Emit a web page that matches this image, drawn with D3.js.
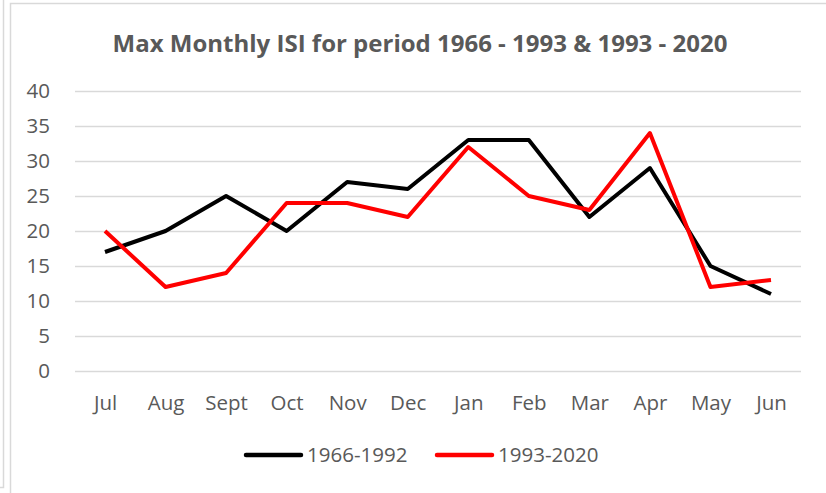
<!DOCTYPE html>
<html><head><meta charset="utf-8">
<script src="https://cdn.jsdelivr.net/npm/d3@7"></script>
<style>body{margin:0;background:#fff;} svg{display:block;}</style>
</head><body>
<script>
const months = ["Jul","Aug","Sept","Oct","Nov","Dec","Jan","Feb","Mar","Apr","May","Jun"];
const series1966 = [17,20,25,20,27,26,33,33,22,29,15,11];
const series1993 = [20,12,14,24,24,22,32,25,23,34,12,13];
const seriesNames = ["1966-1992","1993-2020"];
const seriesColors = ["#000000","#ff0000"];
const yTicks = [0,5,10,15,20,25,30,35,40];
const title = "Max Monthly ISI for period 1966 - 1993 & 1993 - 2020";

const W = 826, H = 493;
const svg = d3.select("body").append("svg").attr("width", W).attr("height", H);
const font = "'Open Sans', 'Noto Sans', sans-serif";

// outer frames
svg.append("path").attr("d","M3.5,0 V487.5 H0").attr("fill","none").attr("stroke","#d9d9d9").attr("stroke-width",1.5);
svg.append("path").attr("d","M10.5,493 V3.5 H826").attr("fill","none").attr("stroke","#d9d9d9").attr("stroke-width",1.5);

const plotL = 75, plotR = 801, plotT = 91, plotB = 371;
const x = d3.scalePoint().domain(months).range([105, 771]);
const y = d3.scaleLinear().domain([0,40]).range([plotB, plotT]);

svg.append("text").attr("x", 420).attr("y", 52).attr("text-anchor","middle")
  .attr("font-family", font).attr("font-weight","bold").attr("font-size", 24).attr("fill","#595959").text(title);

const yAxis = d3.axisLeft(y).tickValues(yTicks).tickSize(-(plotR-plotL)).tickPadding(25);
const gy = svg.append("g").attr("transform", `translate(${plotL},0)`).call(yAxis);
gy.select(".domain").remove();
gy.selectAll(".tick line").attr("stroke","#d9d9d9").attr("stroke-width",1.5);
gy.selectAll(".tick text").attr("font-family", font).attr("font-size", 20.5).attr("fill","#595959");

const xAxis = d3.axisBottom(x).tickSize(0).tickPadding(24);
const gx = svg.append("g").attr("transform", `translate(0,${plotB})`).call(xAxis);
gx.select(".domain").remove();
gx.selectAll(".tick text").attr("font-family", font).attr("font-size", 20.5).attr("fill","#595959");

const line = d3.line().x((d,i)=>x(months[i])).y(d=>y(d));
[series1966, series1993].forEach((s,k)=>{
  svg.append("path").datum(s).attr("d", line).attr("fill","none")
    .attr("stroke", seriesColors[k]).attr("stroke-width", 4).attr("stroke-linejoin","round");
});

// legend
const legX = [246, 437];
seriesNames.forEach((n,k)=>{
  svg.append("line").attr("x1", legX[k]).attr("x2", legX[k]+55).attr("y1",455).attr("y2",455)
    .attr("stroke", seriesColors[k]).attr("stroke-width",4.5).attr("stroke-linecap","round");
  svg.append("text").attr("x", legX[k]+61).attr("y", 462).attr("font-family", font)
    .attr("font-size", 20.5).attr("fill","#595959").text(n);
});
</script>
</body></html>
